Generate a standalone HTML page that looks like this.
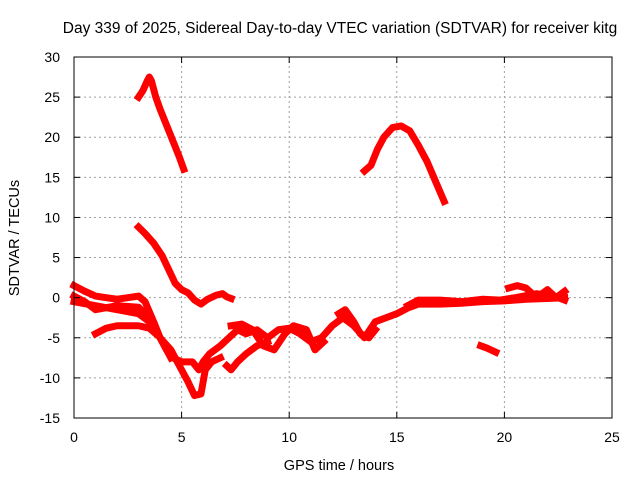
<!DOCTYPE html>
<html><head><meta charset="utf-8"><style>
body{margin:0;background:#fff;}
svg{display:block;font-family:"Liberation Sans",sans-serif;}
</style></head><body>
<svg id="chart" width="640" height="480" viewBox="0 0 640 480">
<rect width="640" height="480" fill="#fff"/>
<text x="340" y="33" font-size="15.5" text-anchor="middle" fill="#000">Day 339 of 2025, Sidereal Day-to-day VTEC variation (SDTVAR) for receiver kitg</text>
<text x="339" y="470" font-size="14.5" text-anchor="middle">GPS time / hours</text>
<text transform="translate(19,238) rotate(-90)" font-size="14.5" text-anchor="middle">SDTVAR / TECUs</text>
<g id="grid"></g><g id="series"></g><g id="axes"></g>
</svg>
<script>
const xTicks=[0,5,10,15,20,25];
const yTicks=[-15,-10,-5,0,5,10,15,20,25,30];
const segA=[[3.0,25],[3.2,25.8],[3.4,27],[3.5,27.5],[3.6,27],[3.8,25],[4.0,23.5],[4.3,21.5],[4.6,19.5],[4.9,17.5],[5.1,16]];
const segB=[[13.5,15.8],[13.8,16.5],[14.1,18.5],[14.4,20],[14.8,21.2],[15.2,21.4],[15.6,20.8],[16,19],[16.4,17],[16.8,14.5],[17.2,12]];
const segC=[[3.0,8.8],[3.3,8],[3.7,6.8],[4.1,5.2],[4.4,3.5],[4.7,1.8],[5.0,1],[5.3,0.6],[5.6,-0.3],[5.9,-0.8],[6.2,-0.2],[6.6,0.3],[6.9,0.5],[7.1,0.1],[7.3,-0.1]];
const segD=[[0,1.5],[0.5,0.8],[1,0.2],[1.5,0],[2,-0.2],[2.5,0],[3.0,0.2],[3.3,-0.5],[3.7,-3],[4.0,-5],[4.3,-6.5],[4.6,-7.5],[5.0,-8],[5.5,-8],[5.8,-9],[6.0,-8],[6.3,-7],[6.8,-6],[7.2,-5],[7.6,-4],[8,-4.5],[8.5,-4],[9,-5],[9.5,-4],[10,-3.8],[10.5,-4.5],[11,-5.5],[11.5,-5],[12,-3.5],[12.5,-2.5],[13,-3.5],[13.5,-5],[14,-3],[14.5,-2.5],[15,-2],[15.5,-1.3],[16,-0.8],[17,-0.8],[18,-0.7],[19,-0.5],[20,-0.4],[21,-0.2],[22,-0.1],[22.8,0]];
const segE=[[0,-0.5],[1,-1],[2,-1.5],[3,-2],[3.5,-3],[4,-5],[4.5,-6.5],[5,-9],[5.3,-10.5],[5.6,-12.2],[5.9,-12],[6.1,-9],[6.4,-8],[6.8,-7.5]];
const segF=[[1,-4.5],[1.5,-3.8],[2,-3.5],[2.5,-3.5],[3,-3.5],[3.5,-3.8],[3.8,-4.5]];
const segG=[[7.3,-3.5],[7.8,-3.3],[8.3,-4],[8.8,-6],[9.3,-6.5],[9.8,-4.5],[10.2,-3.5],[10.8,-4],[11.2,-6.5],[11.6,-5.5]];
const segH=[[7.1,-8.5],[7.3,-9],[7.6,-8],[8,-7],[8.5,-6],[9,-5.5]];
const segI=[[12.3,-2],[12.6,-1.5],[13,-3],[13.3,-4.5],[13.7,-5],[14,-4]];
const segJ=[[18.9,-6],[19.2,-6.3],[19.6,-6.8]];
const segK=[[20.2,1.2],[20.6,1.5],[21,1.2],[21.5,0],[22,1],[22.4,0],[22.8,0.8]];
const segL=[[0,0.2],[0.5,-0.5],[1,-1.5],[2,-1],[3,-1.2],[3.5,-2.5],[4,-5],[4.5,-7.5]];
const segM=[[15.5,-1],[16,-0.3],[17,-0.3],[18,-0.5],[19,-0.2],[19.8,-0.3],[20.5,0],[21.5,0.5],[22.3,0.2],[22.8,-0.3]];
const allSegs=[segA,segB,segC,segD,segE,segF,segG,segH,segI,segJ,segK,segL,segM];
const segNames=['arc-early','arc-midday','descent-early','main-trace','dip-trace','lower-left-trace','mid-trace','low-mid-trace','bump-trace','late-fragment','late-high-trace','secondary-trace','late-band-trace'];
const X0=74,X1=612,Y0=418,Y1=57;
const sx=v=>X0+(v-0)/(25-0)*(X1-X0);
const sy=v=>Y0-(v+15)/(45)*(Y0-Y1);
const NS='http://www.w3.org/2000/svg';
function mk(t,a,p){const e=document.createElementNS(NS,t);for(const k in a)e.setAttribute(k,a[k]);p.appendChild(e);return e;}
const grid=document.getElementById('grid'),axes=document.getElementById('axes'),ser=document.getElementById('series');
xTicks.forEach(t=>{
 if(t>0&&t<25){const l=mk('line',{x1:sx(t),x2:sx(t),y1:Y0,y2:Y1,stroke:'#a0a0a0','stroke-dasharray':'2,3'},grid);
 
 }
 mk('line',{x1:sx(t),x2:sx(t),y1:Y0,y2:Y0-6,stroke:'#000'},axes);
 mk('line',{x1:sx(t),x2:sx(t),y1:Y1,y2:Y1+6,stroke:'#000'},axes);
 const tx=mk('text',{x:sx(t),y:Y0+24,'font-size':14,'text-anchor':'middle'},axes);tx.textContent=t;
 
 
});
yTicks.forEach(t=>{
 if(t>-15&&t<30){const l=mk('line',{x1:X0,x2:X1,y1:sy(t),y2:sy(t),stroke:'#a0a0a0','stroke-dasharray':'2,3'},grid);
 
 }
 mk('line',{x1:X0,x2:X0+6,y1:sy(t),y2:sy(t),stroke:'#000'},axes);
 mk('line',{x1:X1,x2:X1-6,y1:sy(t),y2:sy(t),stroke:'#000'},axes);
 const tx=mk('text',{x:X0-14,y:sy(t)+5,'font-size':14,'text-anchor':'end'},axes);tx.textContent=t;
 
 
});
const fr=mk('rect',{x:X0,y:Y1,width:X1-X0,height:Y0-Y1,fill:'none',stroke:'#000'},axes);


allSegs.forEach((s,i)=>{
 const p=mk('polyline',{points:s.map(d=>sx(d[0])+','+sy(d[1])).join(' '),fill:'none',stroke:'#ff0000','stroke-width':7,'stroke-linejoin':'round','stroke-linecap':'square'},ser);
 
 
});
</script>
</body></html>
